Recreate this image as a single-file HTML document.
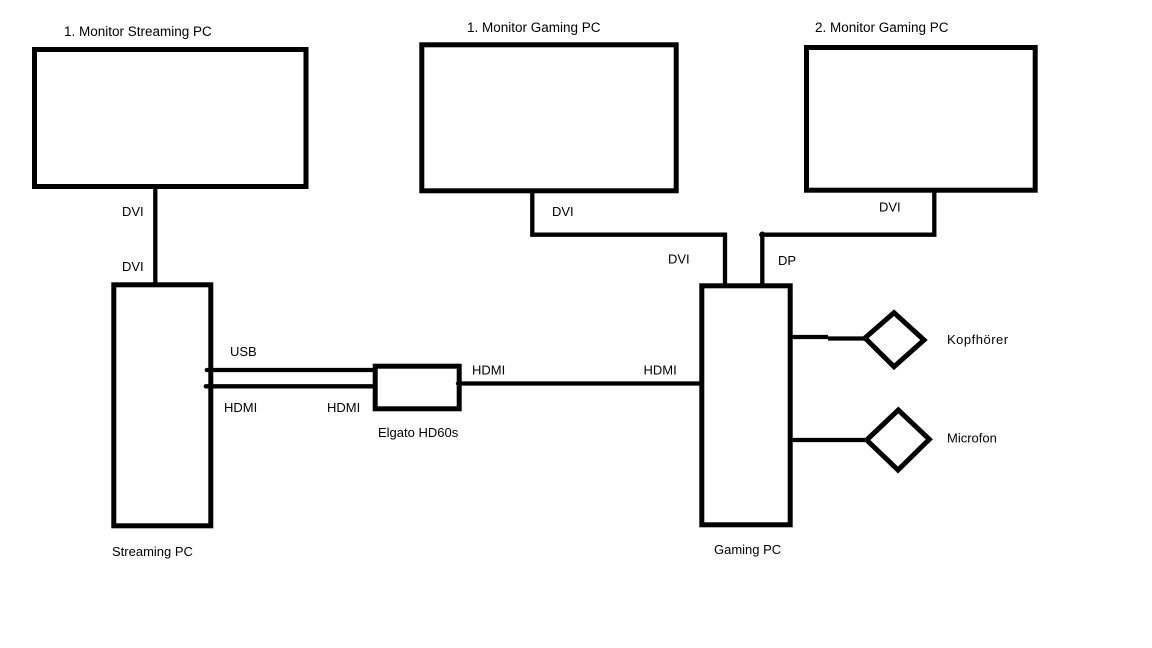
<!DOCTYPE html>
<html>
<head>
<meta charset="utf-8">
<style>
html,body{margin:0;padding:0;background:#fff;}
svg{display:block;}
text{font-family:"Liberation Sans",Arial,sans-serif;font-size:13px;fill:#000;}
</style>
</head>
<body>
<svg width="1152" height="648" viewBox="0 0 1152 648" xmlns="http://www.w3.org/2000/svg">
<rect x="0" y="0" width="1152" height="648" fill="#fff"/>
<g fill="none" stroke="#000" stroke-width="5" stroke-linejoin="miter">
  <rect x="34.5" y="49.5" width="271.5" height="137"/>
  <rect x="113.8" y="284.8" width="97" height="241"/>
  <rect x="375.2" y="366.2" width="84" height="42.6"/>
  <rect x="421.8" y="44.8" width="254.4" height="146"/>
  <rect x="806.5" y="47.5" width="228.7" height="142.7"/>
  <rect x="701.8" y="285.8" width="88.4" height="239"/>
  <polygon points="865,338 894,312.7 924,340 894,366.7"/>
  <polygon points="866.7,440 898.3,410 929.3,439.3 898,470"/>
</g>
<g fill="none" stroke="#000" stroke-width="4.3" stroke-linecap="round" stroke-linejoin="miter">
  <path d="M155.3 189 V284"/>
  <path d="M206.8 370 H375"/>
  <path d="M205.8 386.3 H375"/>
  <path d="M458 383.5 H701"/>
  <path d="M532.3 192 V234.7 H725 V284" stroke-linecap="butt"/>
  <path d="M762.3 284 V234.7 H934.3 V192" stroke-linecap="butt"/>
  <circle cx="762.3" cy="234.7" r="1" />
  <path d="M791 337 H828" stroke-linecap="butt"/>
  <path d="M828 338.5 H866" stroke-linecap="butt"/>
  <path d="M791 440 H867" stroke-linecap="butt"/>
</g>
<text x="64" y="36" style="font-size:13.5px">1. Monitor Streaming PC</text>
<text x="122" y="216">DVI</text>
<text x="122" y="271">DVI</text>
<text x="230" y="356">USB</text>
<text x="224" y="412">HDMI</text>
<text x="327" y="412">HDMI</text>
<text x="378" y="437">Elgato HD60s</text>
<text x="112" y="556">Streaming PC</text>
<text x="467" y="32" style="font-size:13.5px">1. Monitor Gaming PC</text>
<text x="552" y="216">DVI</text>
<text x="668" y="263.5">DVI</text>
<text x="778" y="265">DP</text>
<text x="815" y="32" style="font-size:13.5px">2. Monitor Gaming PC</text>
<text x="879" y="211.5">DVI</text>
<text x="472" y="374.5">HDMI</text>
<text x="643.5" y="374.5">HDMI</text>
<text x="947" y="344" style="letter-spacing:0.5px">Kopfhörer</text>
<text x="947" y="442.5">Microfon</text>
<text x="714" y="554">Gaming PC</text>
</svg>
</body>
</html>
